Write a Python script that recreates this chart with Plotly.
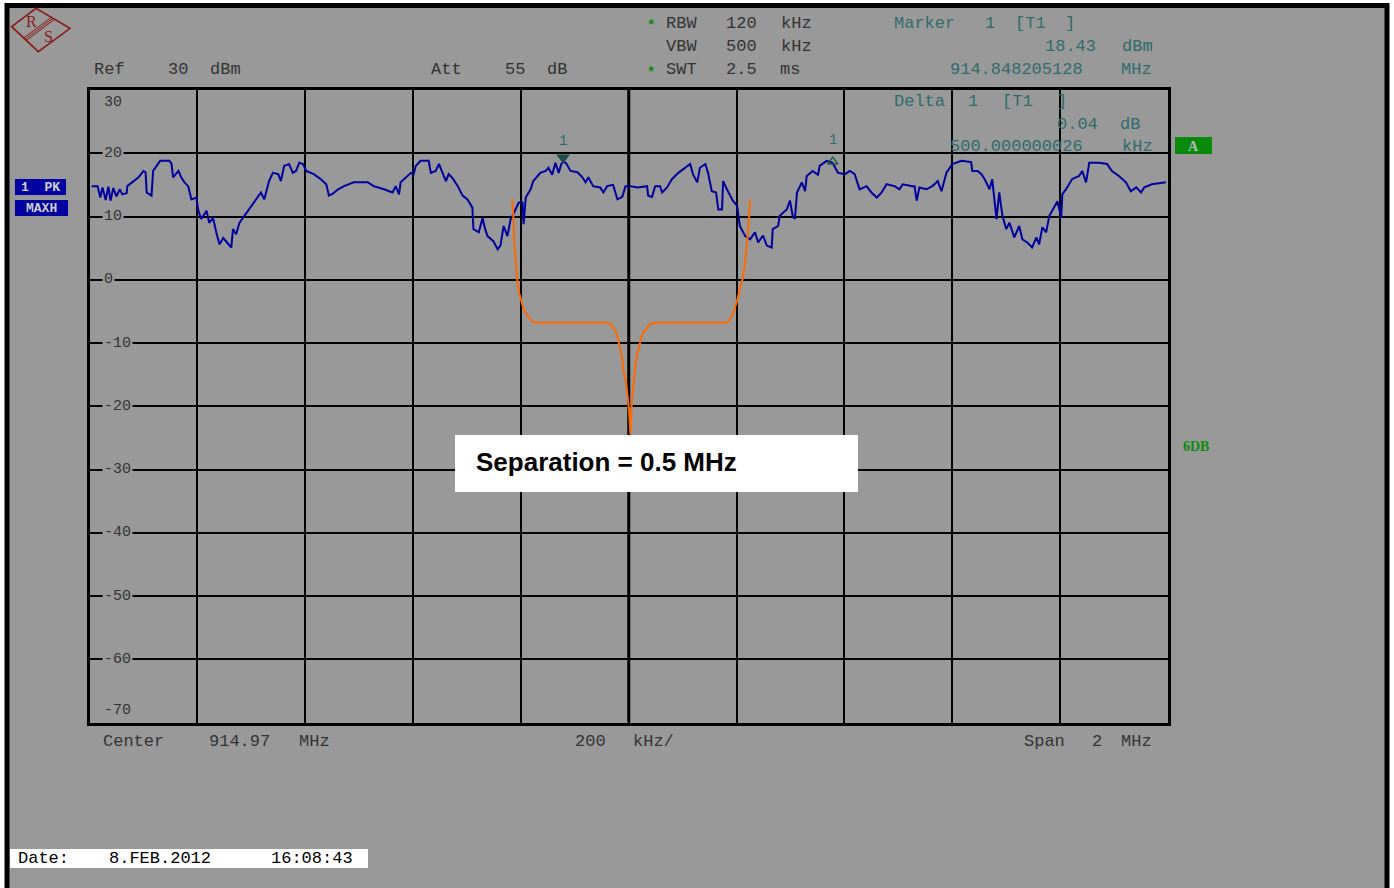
import plotly.graph_objects as go

W, H = 1394, 888

# ---------------- data ----------------
center_mhz = 914.97
span_khz = 2000
ref_level_dbm = 30
db_per_div = 10

# Max-hold trace (frequency offset from centre, kHz ; level, dBm)
trace_freq_khz = [
    -996, -985, -980, -976, -970, -965, -961, -956, -950, -944, -939, -931, -930, -919, -909, -900,
    -896, -894, -885, -882, -872, -869, -852, -848, -845, -835, -830, -824, -817, -811, -802, -798,
    -793, -783, -778, -771, -765, -759, -752, -743, -737, -734, -728, -722, -713, -704, -695, -682,
    -676, -672, -667, -660, -650, -645, -639, -630, -623, -617, -611, -604, -598, -584, -571, -561,
    -556, -549, -539, -528, -510, -484, -473, -454, -438, -432, -426, -423, -413, -404, -399, -395,
    -386, -371, -367, -358, -352, -345, -339, -334, -327, -317, -308, -299, -290, -288, -278, -271,
    -267, -262, -251, -243, -238, -232, -225, -219, -216, -210, -204, -197, -195, -191, -182, -177,
    -164, -154, -149, -142, -136, -130, -125, -122, -119, -116, -108, -95, -86, -80, -75, -66,
    -53, -47, -40, -29, -21, -12, -6, 3, 16, 34, 36, 43, 49, 58, 62, 71,
    80, 92, 108, 114, 119, 127, 132, 142, 147, 154, 162, 166, 173, 175, 182, 188,
    193, 201, 206, 216, 225, 234, 240, 249, 256, 265, 267, 277, 280, 293, 299, 304,
    308, 312, 321, 327, 330, 341, 351, 354, 367, 378, 388, 401, 410, 419, 428, 441,
    450, 460, 469, 478, 493, 502, 508, 526, 530, 534, 539, 552, 563, 573, 580, 589,
    600, 617, 635, 637, 647, 654, 660, 669, 674, 682, 687, 693, 700, 706, 715, 724,
    730, 739, 748, 756, 761, 767, 774, 780, 789, 795, 802, 804, 813, 822, 835, 841,
    848, 854, 872, 887, 896, 909, 922, 931, 941, 950, 956, 970, 996,
]
trace_level_dbm = [
    14.8, 14.8, 13.0, 14.6, 12.6, 14.7, 12.5, 14.5, 13.2, 14.3, 13.5, 13.7, 14.8, 15.6, 16.2, 17.2,
    17.0, 13.8, 13.3, 17.2, 18.5, 18.8, 18.8, 18.4, 16.2, 17.2, 16.2, 15.4, 14.8, 12.7, 13.0, 10.9,
    9.6, 10.9, 9.0, 9.8, 7.5, 5.6, 6.6, 5.6, 5.1, 8.0, 7.2, 9.0, 10.1, 11.1, 12.2, 13.8,
    12.7, 14.0, 15.6, 16.9, 16.7, 15.6, 18.0, 18.3, 16.9, 17.2, 18.5, 18.3, 17.2, 16.7, 15.9, 15.1,
    13.3, 13.6, 14.3, 14.8, 15.4, 15.4, 14.8, 14.3, 13.8, 14.8, 13.5, 15.4, 16.2, 16.9, 16.7, 18.0,
    18.8, 18.8, 16.9, 17.2, 18.3, 16.9, 15.6, 16.7, 16.1, 14.8, 13.3, 12.7, 11.4, 8.0, 7.5, 9.8,
    8.2, 6.9, 6.1, 4.8, 5.4, 8.5, 6.9, 9.6, 10.0, 11.1, 12.2, 12.2, 8.8, 13.0, 14.3, 15.6,
    16.9, 17.2, 17.7, 16.6, 18.5, 16.9, 18.3, 18.6, 18.6, 18.4, 17.2, 17.0, 16.2, 15.4, 16.2, 14.8,
    14.6, 13.8, 14.8, 15.0, 12.7, 13.1, 14.8, 14.8, 14.6, 14.8, 13.3, 13.1, 14.8, 14.8, 13.8, 14.6,
    15.9, 16.9, 18.0, 18.3, 16.7, 15.4, 17.7, 18.3, 16.9, 14.0, 13.8, 11.1, 11.1, 15.6, 14.3, 13.3,
    12.5, 11.7, 8.5, 6.9, 6.4, 7.5, 5.9, 7.0, 5.4, 5.1, 8.0, 8.5, 10.1, 11.1, 12.5, 10.1,
    9.6, 13.8, 15.4, 14.0, 16.4, 17.2, 16.6, 18.0, 18.8, 18.5, 16.9, 16.7, 17.2, 16.7, 14.3, 14.8,
    13.8, 13.0, 13.8, 15.1, 14.8, 14.3, 15.1, 14.8, 14.8, 12.5, 14.6, 14.3, 14.8, 15.6, 14.0, 16.9,
    18.3, 18.8, 18.6, 17.2, 17.2, 16.7, 15.9, 14.3, 15.9, 9.6, 13.8, 10.1, 8.0, 9.0, 6.7, 8.5,
    6.4, 5.9, 5.1, 6.7, 5.6, 8.3, 7.5, 10.1, 11.4, 12.4, 9.8, 13.5, 14.6, 15.9, 16.4, 17.2,
    15.4, 18.5, 18.5, 18.3, 17.2, 16.4, 15.4, 14.0, 14.6, 13.8, 14.6, 15.1, 15.4,
]

# Idealised filter response overlay (kHz offset ; dB)
filter_freq_khz = [
    -216, -214, -213, -210, -207, -204, -198, -195, -185, -179, -173, -40, -34, -28, -22, -19,
    -13, -10, -5, -1.5, 1, 3, 6, 12, 15, 24, 27, 40, 52, 182, 188, 194,
    200, 206, 211, 216, 219, 222, 223, 225,
]
filter_level_db = [
    12.7, 10.1, 6.9, 3.2, 0.1, -1.8, -3.6, -4.7, -6.0, -6.5, -6.8, -6.8, -7.0, -7.6, -8.6, -9.9,
    -12.0, -14.2, -16.3, -18.9, -21.0, -24.4, -18.9, -13.6, -12.0, -8.9, -8.3, -7.0, -6.8, -6.8, -6.2, -5.2,
    -3.6, -1.5, 0.1, 2.7, 5.3, 8.0, 9.6, 12.7,
]

marker1_freq_khz = -121.79      # 914.848205128 MHz
marker1_level_dbm = 18.43
delta1_freq_khz = 500.0
delta1_level_db = 0.04

y_tick_values = [30, 20, 10, 0, -10, -20, -30, -40, -50, -60, -70]
y_tick_labels = ["30", "20", "10", "0", "-10", "-20", "-30", "-40", "-50", "-60", "-70"]

# ---------------- styling ----------------
GRAY = "#999999"
MONO = "Liberation Mono, Courier New, monospace"
SERIF = "Liberation Serif, serif"
TXT = "#333333"
TEAL = "#2F6B6B"
GREEN = "#0A8A0A"
NAVY = "#0000A0"
FS = 17

def px(x):
    return x / W

def py(y):
    return 1 - y / H

fig = go.Figure()

fig.add_trace(go.Scatter(x=trace_freq_khz, y=trace_level_dbm, mode="lines",
                         line=dict(color=NAVY, width=2), hoverinfo="skip"))
fig.add_trace(go.Scatter(x=filter_freq_khz, y=filter_level_db, mode="lines",
                         line=dict(color="#FF6A00", width=2), hoverinfo="skip"))
# marker 1 (filled triangle drawn just above the marker point)
fig.add_trace(go.Scatter(x=[marker1_freq_khz], y=[marker1_level_dbm + 0.9], mode="markers",
                         marker=dict(symbol="triangle-down", size=12, color="#1E4D4D"),
                         hoverinfo="skip"))
# delta marker
fig.add_trace(go.Scatter(x=[marker1_freq_khz + delta1_freq_khz],
                         y=[marker1_level_dbm + delta1_level_db + 0.2], mode="markers",
                         marker=dict(symbol="triangle-up-open", size=9, color="#1E5E3E",
                                     line=dict(width=1.5, color="#1E5E3E")),
                         hoverinfo="skip"))

shapes = []
# instrument screen background + black frame
shapes.append(dict(type="rect", xref="paper", yref="paper", x0=px(7), x1=px(1387),
                   y0=py(900), y1=py(5.5), fillcolor=GRAY,
                   line=dict(color="black", width=5), layer="below"))
# centre line (thicker)
shapes.append(dict(type="line", xref="x", yref="y", x0=0, x1=0, y0=-70, y1=30,
                   line=dict(color="black", width=3), layer="below"))
# separation text box
shapes.append(dict(type="rect", xref="paper", yref="paper", x0=px(455), x1=px(858),
                   y0=py(492), y1=py(435), fillcolor="white", line=dict(width=0), layer="above"))
# date box
shapes.append(dict(type="rect", xref="paper", yref="paper", x0=px(10), x1=px(368),
                   y0=py(868), y1=py(849), fillcolor="white", line=dict(width=0)))
# trace info boxes
shapes.append(dict(type="rect", xref="paper", yref="paper", x0=px(15), x1=px(66),
                   y0=py(195), y1=py(179), fillcolor=NAVY, line=dict(width=0)))
shapes.append(dict(type="rect", xref="paper", yref="paper", x0=px(15), x1=px(68),
                   y0=py(216), y1=py(200), fillcolor=NAVY, line=dict(width=0)))
# "A" box
shapes.append(dict(type="rect", xref="paper", yref="paper", x0=px(1175), x1=px(1212),
                   y0=py(154), y1=py(137), fillcolor=GREEN, line=dict(width=0)))

# R&S logo
def path(pts, close=True):
    s = "M " + " L ".join(f"{px(a):.5f},{py(b):.5f}" for a, b in pts)
    return s + (" Z" if close else "")

RED = "#8B1A1A"
shapes.append(dict(type="path", xref="paper", yref="paper",
                   path=path([(11.7, 26.7), (36, 8.3), (70, 28.3), (38.3, 51.7)]),
                   line=dict(color=RED, width=1.6)))
for (a, b) in [((23.7, 37.9), (51.3, 17.3)), ((25, 39.2), (53, 18.3)), ((26.3, 40.5), (54.7, 19.3))]:
    shapes.append(dict(type="path", xref="paper", yref="paper", path=path([a, b], close=False),
                       line=dict(color=RED, width=1)))

annotations = []

def txt(s, x, y, size=FS, color=TXT, anchor="center", family=MONO, bold=False, **kw):
    annotations.append(dict(text=("<b>%s</b>" % s) if bold else s, x=px(x), y=py(y),
                            xref="paper", yref="paper", showarrow=False, xanchor=anchor,
                            yanchor="middle", font=dict(family=family, size=size, color=color), **kw))

# logo letters
txt("R", 31, 21, size=16, color=RED, family=SERIF)
txt("S", 48, 36, size=16, color=RED, family=SERIF)

# header rows
txt("Ref", 109.5, 70); txt("30", 178, 70); txt("dBm", 225.5, 70)
txt("Att", 446.5, 70); txt("55", 515, 70); txt("dB", 557, 70)
txt("*", 651, 26, size=14, color=GREEN, bold=True)
txt("*", 651, 73, size=14, color=GREEN, bold=True)
for yy, words in [(23, ("RBW", "120", "kHz")), (47, ("VBW", "500", "kHz")), (70, ("SWT", "2.5", "ms"))]:
    txt(words[0], 681.5, yy); txt(words[1], 741.5, yy)
    txt(words[2], 796.5 if len(words[2]) == 3 else 790, yy)

txt("Marker", 924, 23, color=TEAL); txt("1", 990, 23, color=TEAL)
txt("[T1", 1030, 23, color=TEAL); txt("]", 1070, 23, color=TEAL)
txt("18.43", 1070, 47, color=TEAL); txt("dBm", 1137, 47, color=TEAL)
txt("914.848205128", 1016, 70, color=TEAL); txt("MHz", 1136, 70, color=TEAL)
txt("Delta", 919.5, 101, color=TEAL); txt("1", 973, 101, color=TEAL)
txt("[T1", 1018, 101, color=TEAL); txt("]", 1062, 101, color=TEAL)
txt("0.04", 1077, 124, color=TEAL); txt("dB", 1130, 124, color=TEAL)
txt("500.000000026", 1016, 146, color=TEAL); txt("kHz", 1137, 146, color=TEAL)

# y tick labels (covering the grid line like the instrument)
for v, lab in zip(y_tick_values, y_tick_labels):
    shift = -13 if v == y_tick_values[0] else (12 if v == y_tick_values[-1] else 0)
    annotations.append(dict(text=lab, x=px(102), y=v, xref="paper", yref="y", yshift=shift,
                            showarrow=False, xanchor="left", yanchor="middle",
                            bgcolor=GRAY, borderpad=1,
                            font=dict(family=MONO, size=15, color=TXT)))

# marker numbers
annotations.append(dict(text="1", x=marker1_freq_khz, y=marker1_level_dbm, xref="x", yref="y",
                        yshift=22, showarrow=False, font=dict(family=MONO, size=14, color=TEAL)))
annotations.append(dict(text="1", x=marker1_freq_khz + delta1_freq_khz,
                        y=marker1_level_dbm + delta1_level_db, xref="x", yref="y",
                        yshift=23, showarrow=False, font=dict(family=MONO, size=14, color=TEAL)))

# bottom labels
txt("Center", 133.5, 741); txt("914.97", 239.5, 741); txt("MHz", 314.5, 741)
txt("200", 590.5, 741); txt("kHz/", 653, 741)
txt("Span", 1044, 741); txt("2", 1097, 741); txt("MHz", 1136.5, 741)

# side indicators
txt("1  PK", 40.5, 187, size=13, color="#D0D0D0", bold=True)
txt("MAXH", 41.5, 208, size=13, color="#D0D0D0", bold=True)
txt("A", 1193.5, 146, size=14, color="#B8B8B8", family=SERIF, bold=True)
txt("6DB", 1196, 446, size=14, color=GREEN, family=SERIF, bold=True)

# separation note
txt("Separation = 0.5 MHz", 474, 462, size=26, color="black", anchor="left",
    family="Liberation Sans, Arial, sans-serif", bold=True)

# date
txt("Date:", 43.5, 858, color="black"); txt("8.FEB.2012", 159.5, 858, color="black")
txt("16:08:43", 312, 858, color="black")

fig.update_layout(
    width=W, height=H, margin=dict(l=0, r=0, t=0, b=0),
    paper_bgcolor="white", plot_bgcolor=GRAY, showlegend=False,
    shapes=shapes, annotations=annotations,
    xaxis=dict(range=[-span_khz / 2, span_khz / 2], domain=[px(89.5), px(1168)],
               showgrid=True, dtick=200, tick0=-1000, gridcolor="black", gridwidth=1.5,
               showticklabels=False, ticks="", zeroline=False, showline=True, mirror=True,
               linecolor="black", linewidth=3, fixedrange=True),
    yaxis=dict(range=[ref_level_dbm - 10 * db_per_div, ref_level_dbm],
               domain=[py(722.5), py(90)], showgrid=True, dtick=db_per_div, tick0=-70,
               gridcolor="black", gridwidth=1.5, showticklabels=False, ticks="",
               zeroline=False, showline=True, mirror=True, linecolor="black", linewidth=3,
               fixedrange=True),
)

fig.write_html("out.html")
